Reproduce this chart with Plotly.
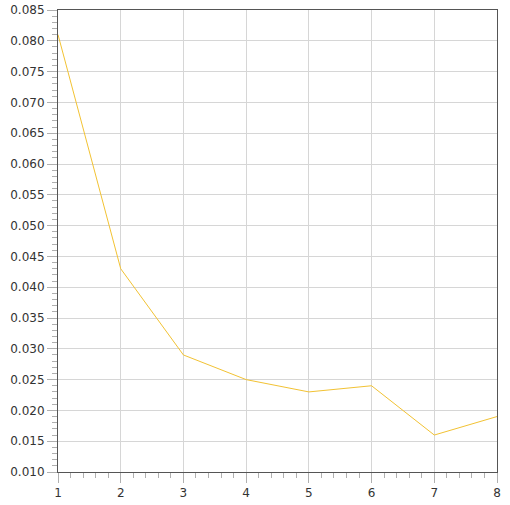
import plotly.graph_objects as go

x_vals = [1, 2, 3, 4, 5, 6, 7, 8]
y_vals = [0.081, 0.043, 0.029, 0.025, 0.023, 0.024, 0.016, 0.019]

fig = go.Figure()
fig.add_trace(go.Scatter(x=x_vals, y=y_vals, mode="lines",
                         line=dict(color="#f2c233", width=1)))

axis_common = dict(
    showline=True, linecolor="#555555", linewidth=1, mirror=True,
    showgrid=True, gridcolor="#d6d6d6", gridwidth=1,
    ticks="outside", ticklen=10, tickcolor="#b0b0b0", tickwidth=1,
    zeroline=False, automargin=False,
    tickfont=dict(family="DejaVu Sans", size=12, color="#333333"),
)

fig.update_xaxes(range=[1, 8], dtick=1, tick0=1,
                 minor=dict(ticks="outside", ticklen=5, dtick=0.2, tick0=1,
                            tickcolor="#b0b0b0", showgrid=False),
                 **axis_common)
fig.update_yaxes(range=[0.010, 0.085], dtick=0.005, tick0=0.010, tickformat=".3f",
                 minor=dict(ticks="outside", ticklen=5, dtick=0.001, tick0=0.010,
                            tickcolor="#b0b0b0", showgrid=False),
                 **axis_common)

fig.update_layout(width=510, height=505,
                  margin=dict(l=58, r=13, t=10, b=33),
                  plot_bgcolor="white", paper_bgcolor="white",
                  showlegend=False)

fig.write_html("out.html",
               config={"displayModeBar": False},
               post_script="document.body.style.margin='0';document.body.style.padding='0';")
